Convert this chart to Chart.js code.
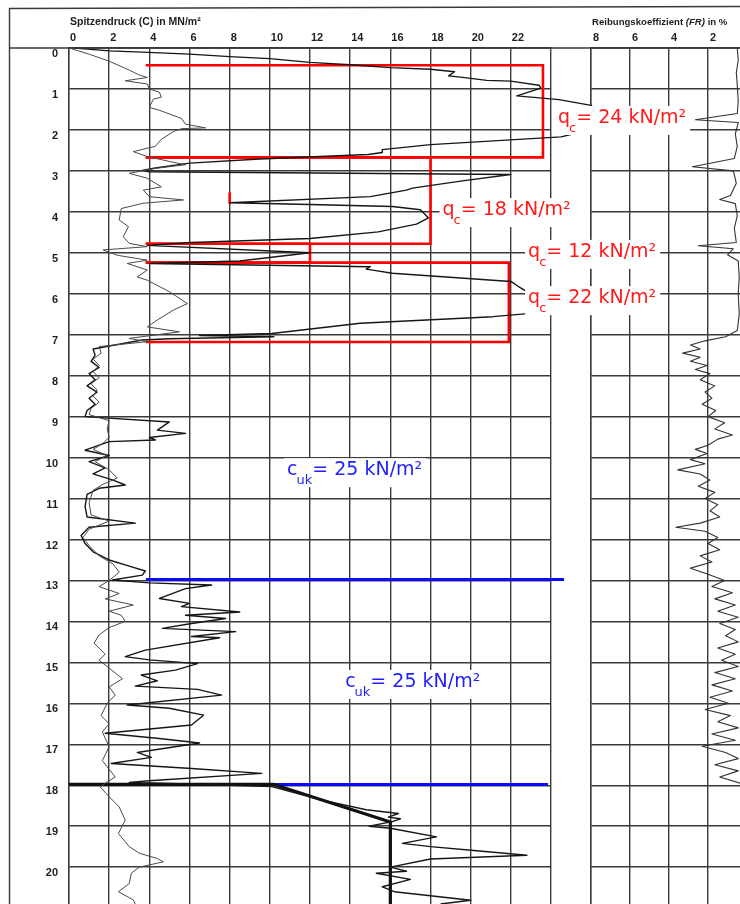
<!DOCTYPE html>
<html><head><meta charset="utf-8">
<script src="https://cdn.jsdelivr.net/npm/chart.js@4/dist/chart.umd.min.js"></script>
<style>
html,body{margin:0;padding:0;background:#fff;}
#wrap{position:relative;width:740px;height:904px;overflow:hidden;background:#fff;}
#fr{position:absolute;left:585px;top:0;z-index:1;}
#qc{position:absolute;left:0;top:0;z-index:2;}
</style></head><body>
<div id="wrap"><canvas id="fr" width="155" height="904"></canvas><canvas id="qc" width="740" height="904"></canvas></div>
<script>
// ---------- ticks ----------
const depthTicks = [0,1,2,3,4,5,6,7,8,9,10,11,12,13,14,15,16,17,18,19,20];
const qcTicks = [0,2,4,6,8,10,12,14,16,18,20,22,24];
const qcTickLabels = ['0','2','4','6','8','10','12','14','16','18','20','22',''];
const frTicks = [8,6,4,2];
const frTickLabels = ['8','6','4','2'];

// ---------- Spitzendruck (C) in MN/m², [wert, tiefe m] ----------
const spitzendruck = [
[0.3,0.0],[2.0,0.07],[3.65,0.1],[6.0,0.15],[8.0,0.21],[10.0,0.26],[12.0,0.35],[14.0,0.41],[16.0,0.48],[18.0,0.52],
[19.2,0.58],[18.9,0.68],[19.5,0.71],[20.8,0.79],[22.0,0.81],[23.4,0.91],[23.5,0.98],[22.3,1.17],[24.4,1.26],[26.0,1.4],
[26.5,1.9],[25.5,2.05],[24.5,2.17],[18.0,2.36],[15.6,2.48],[15.6,2.55],[14.9,2.6],[9.5,2.71],[6.0,2.81],[4.3,2.93],
[3.65,2.99],[4.0,3.02],[22.0,3.09],[19.5,3.25],[17.1,3.42],[16.8,3.47],[15.0,3.63],[8.0,3.78],[12.0,3.82],[16.1,3.87],
[17.5,3.95],[17.9,4.15],[17.3,4.3],[15.4,4.49],[12.0,4.65],[6.1,4.75],[3.9,4.82],[12.0,5.0],[8.5,5.2],[4.0,5.26],
[15.0,5.34],[14.8,5.4],[15.2,5.43],[16.1,5.5],[22.0,5.7],[22.4,5.83],[22.8,5.95],[23.7,6.45],[21.1,6.56],[14.5,6.72],
[10.1,6.97],[6.5,7.02],[10.2,7.05],[5.0,7.1],[3.65,7.13],[1.2,7.35],[1.3,7.5],[1.1,7.65],[1.5,7.8],[1.0,7.95],
[1.3,8.1],[0.9,8.25],[1.4,8.4],[1.0,8.55],[1.3,8.7],[0.9,8.85],[0.8,9.0],[5.0,9.13],[4.4,9.33],[5.8,9.41],
[4.0,9.51],[4.3,9.57],[2.0,9.61],[0.8,9.82],[2.0,9.95],[1.0,10.1],[1.8,10.25],[1.2,10.4],[2.2,10.55],[2.8,10.67],
[1.5,10.75],[0.9,10.9],[0.8,11.2],[0.9,11.45],[3.3,11.6],[1.0,11.7],[0.6,11.9],[0.8,12.1],[1.2,12.3],[2.0,12.5],
[3.0,12.65],[3.8,12.77],[3.65,12.87],[2.16,12.99],[4.0,13.06],[7.1,13.11],[5.8,13.2],[4.5,13.44],[6.0,13.56],[5.6,13.64],
[8.5,13.77],[5.8,13.85],[7.8,13.93],[6.1,14.05],[4.65,14.17],[8.3,14.25],[6.1,14.37],[7.5,14.4],[3.8,14.7],[2.8,14.86],
[4.0,14.94],[6.4,15.03],[5.3,15.19],[3.6,15.31],[4.4,15.45],[3.3,15.58],[6.4,15.66],[7.6,15.8],[2.9,16.04],[5.0,16.12],
[6.7,16.29],[6.1,16.53],[1.8,16.73],[4.5,16.86],[6.5,16.97],[3.4,17.2],[4.1,17.32],[2.1,17.47],[6.1,17.59],[9.6,17.71],
[4.0,17.89],[3.0,17.93],[6.0,17.97],[10.1,18.03],[12.5,18.35],[14.8,18.6],[16.4,18.69],[15.9,18.78],[16.5,18.82],[16.1,18.89],
[14.95,19.0],[16.0,19.05],[18.3,19.26],[16.6,19.42],[18.0,19.5],[20.3,19.6],[22.8,19.71],[18.0,19.8],[16.0,20.0],[16.8,20.1],
[15.3,20.15],[17.0,20.3],[15.6,20.48],[16.2,20.6],[20.0,20.81],[18.5,20.9]
];

// ---------- zweite Kurve (duenn), [wert, tiefe m] ----------
const zweiteKurve = [
[0.13,0.02],[1.0,0.15],[2.04,0.33],[3.0,0.54],[3.5,0.66],[3.9,0.72],[2.8,0.8],[3.9,0.88],[4.0,1.0],[4.5,1.08],
[4.6,1.2],[4.2,1.25],[4.0,1.45],[4.5,1.52],[5.6,1.72],[5.8,1.86],[6.8,1.95],[5.6,1.97],[5.2,2.04],[4.6,2.23],
[4.3,2.4],[3.2,2.53],[3.9,2.65],[5.0,2.77],[5.8,2.85],[4.3,2.94],[3.0,3.06],[3.9,3.18],[4.6,3.39],[3.7,3.47],
[4.0,3.63],[5.7,3.71],[3.7,3.79],[2.6,3.92],[2.5,4.2],[2.96,4.36],[2.7,4.61],[3.0,4.77],[3.9,4.85],[1.7,4.93],
[2.4,5.06],[3.9,5.18],[2.9,5.26],[3.9,5.42],[3.4,5.59],[3.9,5.67],[5.0,5.95],[5.9,6.24],[5.2,6.4],[4.4,6.64],
[3.9,6.81],[5.5,6.93],[3.0,7.09],[3.9,7.17],[1.5,7.29],[1.6,7.45],[1.2,7.6],[1.5,7.75],[1.2,7.9],[1.5,8.05],
[1.1,8.2],[1.4,8.35],[1.2,8.5],[1.5,8.65],[1.1,8.8],[1.0,8.95],[2.0,9.1],[1.9,9.3],[2.0,9.5],[1.7,9.65],
[1.2,9.8],[1.9,9.95],[1.3,10.1],[2.0,10.3],[2.4,10.5],[1.7,10.65],[1.2,10.8],[1.0,11.1],[1.1,11.4],[2.0,11.55],
[1.0,11.75],[0.7,11.95],[1.0,12.15],[1.5,12.4],[2.2,12.6],[2.5,12.8],[2.0,13.0],[1.5,13.15],[2.5,13.32],[1.8,13.45],
[3.2,13.6],[2.0,13.75],[2.6,13.85],[2.8,14.0],[2.0,14.15],[1.5,14.33],[1.25,14.53],[1.8,14.8],[1.5,14.95],[2.0,15.14],
[2.66,15.4],[2.0,15.6],[2.3,15.8],[1.9,16.0],[1.6,16.3],[2.0,16.5],[1.66,16.7],[2.0,17.06],[1.66,17.4],[2.3,17.8],
[1.8,17.95],[1.55,18.04],[2.0,18.28],[2.5,18.53],[2.8,18.85],[2.46,19.18],[3.0,19.5],[3.5,19.66],[4.4,19.79],[4.7,19.87],
[3.5,20.0],[3.1,20.15],[3.0,20.4],[2.46,20.6],[3.2,20.8],[3.3,20.9]
];

// ---------- Reibungskoeffizient (FR) in %, [wert, tiefe m] ----------
const reibungskoeffizient = [
[0.5,0.0],[0.45,0.3],[0.55,0.6],[0.5,0.9],[0.45,1.3],[0.5,1.6],[2.65,1.75],[0.45,1.82],[0.6,2.1],[0.5,2.4],
[0.65,2.7],[2.8,2.9],[0.7,3.0],[0.55,3.3],[0.85,3.6],[1.4,3.7],[0.6,3.8],[0.5,4.1],[0.65,4.4],[0.55,4.75],
[2.5,4.83],[0.7,4.9],[1.0,5.05],[0.45,5.2],[0.4,5.6],[0.45,6.0],[0.4,6.5],[0.5,6.9],[1.1,7.05],[2.15,7.15],
[2.9,7.25],[2.4,7.35],[3.3,7.45],[2.4,7.55],[2.9,7.65],[2.05,7.75],[2.65,7.85],[1.9,7.95],[2.4,8.1],[1.65,8.25],
[2.15,8.4],[1.8,8.55],[2.3,8.7],[1.6,8.85],[2.0,9.0],[1.15,9.15],[1.65,9.3],[0.75,9.45],[1.5,9.55],[2.0,9.7],
[2.65,9.8],[2.05,9.9],[2.9,10.05],[2.15,10.15],[3.55,10.3],[2.4,10.4],[1.9,10.55],[2.5,10.7],[1.65,10.85],[2.15,11.0],
[1.5,11.15],[1.9,11.3],[1.4,11.45],[2.4,11.6],[3.65,11.7],[2.15,11.8],[1.5,11.95],[2.0,12.1],[1.4,12.25],[2.4,12.4],
[1.8,12.55],[2.9,12.7],[2.0,12.85],[1.15,13.0],[1.8,13.15],[0.75,13.3],[1.65,13.45],[0.6,13.6],[1.5,13.75],[0.45,13.9],
[1.4,14.05],[0.6,14.2],[1.1,14.35],[0.45,14.5],[1.5,14.65],[0.6,14.8],[1.3,14.95],[0.45,15.1],[1.65,15.25],[0.6,15.4],
[1.8,15.55],[0.75,15.7],[1.9,15.85],[0.95,16.0],[2.15,16.15],[0.85,16.3],[1.5,16.45],[0.45,16.6],[1.8,16.75],[0.6,16.9],
[2.3,17.05],[1.1,17.2],[0.45,17.35],[1.65,17.5],[0.45,17.65],[1.4,17.8],[0.35,17.95]
];

// ---------- Schichten (q_c) ----------
const schichtLinks = 3.82;
const schichtOben  = [0.42, 2.67, 4.78, 5.24];
const schichtUnten = [2.67, 4.78, 5.24, 7.18];
const schichtQc    = [23.6, 18.0, 12.0, 21.9];
const schichtText  = ['24', '18', '12', '22'];
const markeWert = 8.0, markeVon = 3.55, markeBis = 3.79;

// ---------- c_uk Grenzen ----------
const cukLinks = 3.83;
const cukTiefe = [12.98, 17.98];
const cukRechts = [24.65, 23.85];
const cukText = ['25', '25'];

// ---------- Interpretationslinie ----------
const linieWert  = [0, 10.2, 16.0, 16.0];
const linieTiefe = [17.98, 17.98, 18.9, 20.9];

const DEPTH_MAX = 20.9;
const gridColor = '#3a3a3a';
const tickFont = {family: '"Liberation Sans", Arial, sans-serif', size: 11, weight: 'bold'};

const toPts = a => a.map(p => ({x: p[0], y: p[1]}));
const line = (data, color, width, extra) => Object.assign({
  data, borderColor: color, borderWidth: width, showLine: true, pointRadius: 0,
  pointHoverRadius: 0, fill: false, tension: 0, borderJoinStyle: 'round'
}, extra || {});

const leftSets = [];
leftSets.push(line(toPts(zweiteKurve), '#4a4a4a', 1));
leftSets.push(line(toPts(spitzendruck), '#161616', 1.4, {clip: {left: 0, top: 0, right: 50, bottom: 0}}));
leftSets.push(line(linieWert.map((v, i) => ({x: v, y: linieTiefe[i]})), '#111', 3.2));
schichtQc.forEach((q, i) => {
  leftSets.push(line([
    {x: schichtLinks, y: schichtOben[i]}, {x: q, y: schichtOben[i]},
    {x: q, y: schichtUnten[i]}, {x: schichtLinks, y: schichtUnten[i]}
  ], '#ff0000', 2.6, {borderJoinStyle: 'miter'}));
});
leftSets.push(line([{x: markeWert, y: markeVon}, {x: markeWert, y: markeBis}], '#ff0000', 2.6));
cukTiefe.forEach((d, i) => {
  leftSets.push(line([{x: cukLinks, y: d}, {x: cukRechts[i], y: d}], '#0a0aff', 3, {clip: false}));
});

const labelFont = '"DejaVu Sans", "Liberation Sans", sans-serif';
function drawTag(ctx, px, py, head, sub, tail, color) {
  const size = 19, subSize = 13;
  ctx.font = size + 'px ' + labelFont;
  const wh = ctx.measureText(head).width;
  const wt = ctx.measureText(tail).width;
  ctx.font = subSize + 'px ' + labelFont;
  const ws = ctx.measureText(sub).width;
  const w = wh + ws + wt;
  ctx.fillStyle = '#fff';
  ctx.fillRect(px - 3, py - 17, w + 6, 29);
  ctx.fillStyle = color;
  ctx.textBaseline = 'alphabetic';
  ctx.textAlign = 'left';
  ctx.font = size + 'px ' + labelFont;
  ctx.fillText(head, px, py);
  ctx.font = subSize + 'px ' + labelFont;
  ctx.fillText(sub, px + wh - 1, py + 9);
  ctx.font = size + 'px ' + labelFont;
  ctx.fillText(tail, px + wh + ws - 1, py);
}

// label anchors in data units (value, depth of baseline)
const qLabelAt = [[24.35, 1.83], [18.6, 4.08], [22.86, 5.1], [22.86, 6.23]];
const cLabelAt = [[10.86, 10.43], [13.75, 15.6]];

function textRun(ctx, x, y, parts) {
  parts.forEach(p => { ctx.font = p[1]; ctx.fillText(p[0], x, y); x += ctx.measureText(p[0]).width; });
}

const frame = {
  id: 'frame',
  afterDraw(chart) {
    const ctx = chart.ctx, xs = chart.scales.x, ys = chart.scales.y;
    ctx.save();
    ctx.strokeStyle = gridColor;
    ctx.lineWidth = 1.4;
    ctx.beginPath();
    ctx.moveTo(9.5, 904); ctx.lineTo(9.5, 8.5); ctx.lineTo(740, 6.5);
    ctx.moveTo(9.5, ys.getPixelForValue(0)); ctx.lineTo(740, ys.getPixelForValue(0));
    ctx.stroke();
    ctx.fillStyle = '#1e1e1e';
    ctx.textBaseline = 'middle';
    ctx.textAlign = 'left';
    const f1 = 'bold 10.5px "Liberation Sans", Arial, sans-serif';
    textRun(ctx, 70, 22, [['Spitzendruck (C) in MN/m²', f1]]);
    const f2 = 'bold 9.6px "Liberation Sans", Arial, sans-serif';
    const f2i = 'italic bold 9.6px "Liberation Sans", Arial, sans-serif';
    textRun(ctx, 592, 22, [['Reibungskoeffizient ', f2], ['(FR)', f2i], [' in %', f2]]);
    qLabelAt.forEach((p, i) => {
      drawTag(ctx, xs.getPixelForValue(p[0]), ys.getPixelForValue(p[1]), 'q', 'c', '= ' + schichtText[i] + ' kN/m²', '#ff1a1a');
    });
    cLabelAt.forEach((p, i) => {
      drawTag(ctx, xs.getPixelForValue(p[0]), ys.getPixelForValue(p[1]), 'c', 'uk', '= ' + cukText[i] + ' kN/m²', '#1e1eff');
    });
    ctx.restore();
  }
};

const noPad = s => { s.paddingTop = 0; s.paddingBottom = 0; s.paddingLeft = 0; s.paddingRight = 0; };

new Chart(document.getElementById('qc'), {
  type: 'scatter',
  data: {datasets: leftSets},
  options: {
    responsive: false, animation: false, events: [],
    layout: {autoPadding: false, padding: {left: 0, right: 189, top: 0, bottom: 0}},
    plugins: {legend: {display: false}, tooltip: {enabled: false}},
    scales: {
      x: {
        type: 'linear', position: 'top', min: 0, max: 24,
        afterBuildTicks: s => { s.ticks = qcTicks.map(v => ({value: v})); },
        afterFit: s => { s.height = 48; noPad(s); },
        ticks: {align: 'start', labelOffset: 1, padding: 3, autoSkip: false, maxRotation: 0,
          color: '#1e1e1e', font: tickFont,
          callback: v => { const i = qcTicks.indexOf(v); return i >= 0 ? qcTickLabels[i] : ''; }},
        grid: {color: gridColor, lineWidth: 1.4, drawTicks: false},
        border: {display: true, color: gridColor, width: 1.4}
      },
      y: {
        type: 'linear', reverse: true, min: 0, max: DEPTH_MAX,
        afterBuildTicks: s => { s.ticks = depthTicks.map(v => ({value: v})); },
        afterFit: s => { s.width = 69; noPad(s); },
        ticks: {padding: 11, labelOffset: 6, autoSkip: false, color: '#1e1e1e', font: tickFont,
          callback: v => String(v)},
        grid: {color: gridColor, lineWidth: 1.4, drawTicks: false},
        border: {display: true, color: gridColor, width: 1.4}
      }
    }
  },
  plugins: [frame]
});

new Chart(document.getElementById('fr'), {
  type: 'scatter',
  data: {datasets: [line(toPts(reibungskoeffizient), '#333', 1.1)]},
  options: {
    responsive: false, animation: false, events: [],
    layout: {autoPadding: false, padding: {left: 6, right: 0, top: 0, bottom: 0}},
    plugins: {legend: {display: false}, tooltip: {enabled: false}},
    scales: {
      x: {
        type: 'linear', position: 'top', reverse: true, min: 0.36, max: 8,
        afterBuildTicks: s => { s.ticks = frTicks.map(v => ({value: v})); },
        afterFit: s => { s.height = 48; noPad(s); },
        ticks: {align: 'start', labelOffset: 2, padding: 3, autoSkip: false, maxRotation: 0,
          color: '#1e1e1e', font: tickFont,
          callback: v => { const i = frTicks.indexOf(v); return i >= 0 ? frTickLabels[i] : ''; }},
        grid: {color: gridColor, lineWidth: 1.4, drawTicks: false},
        border: {display: true, color: gridColor, width: 1.4}
      },
      y: {
        type: 'linear', reverse: true, min: 0, max: DEPTH_MAX,
        afterBuildTicks: s => { s.ticks = depthTicks.map(v => ({value: v})); },
        afterFit: s => { s.width = 0; noPad(s); },
        ticks: {display: false},
        grid: {color: gridColor, lineWidth: 1.4, drawTicks: false},
        border: {display: true, color: gridColor, width: 1.4}
      }
    }
  }
});
</script>
</body></html>
